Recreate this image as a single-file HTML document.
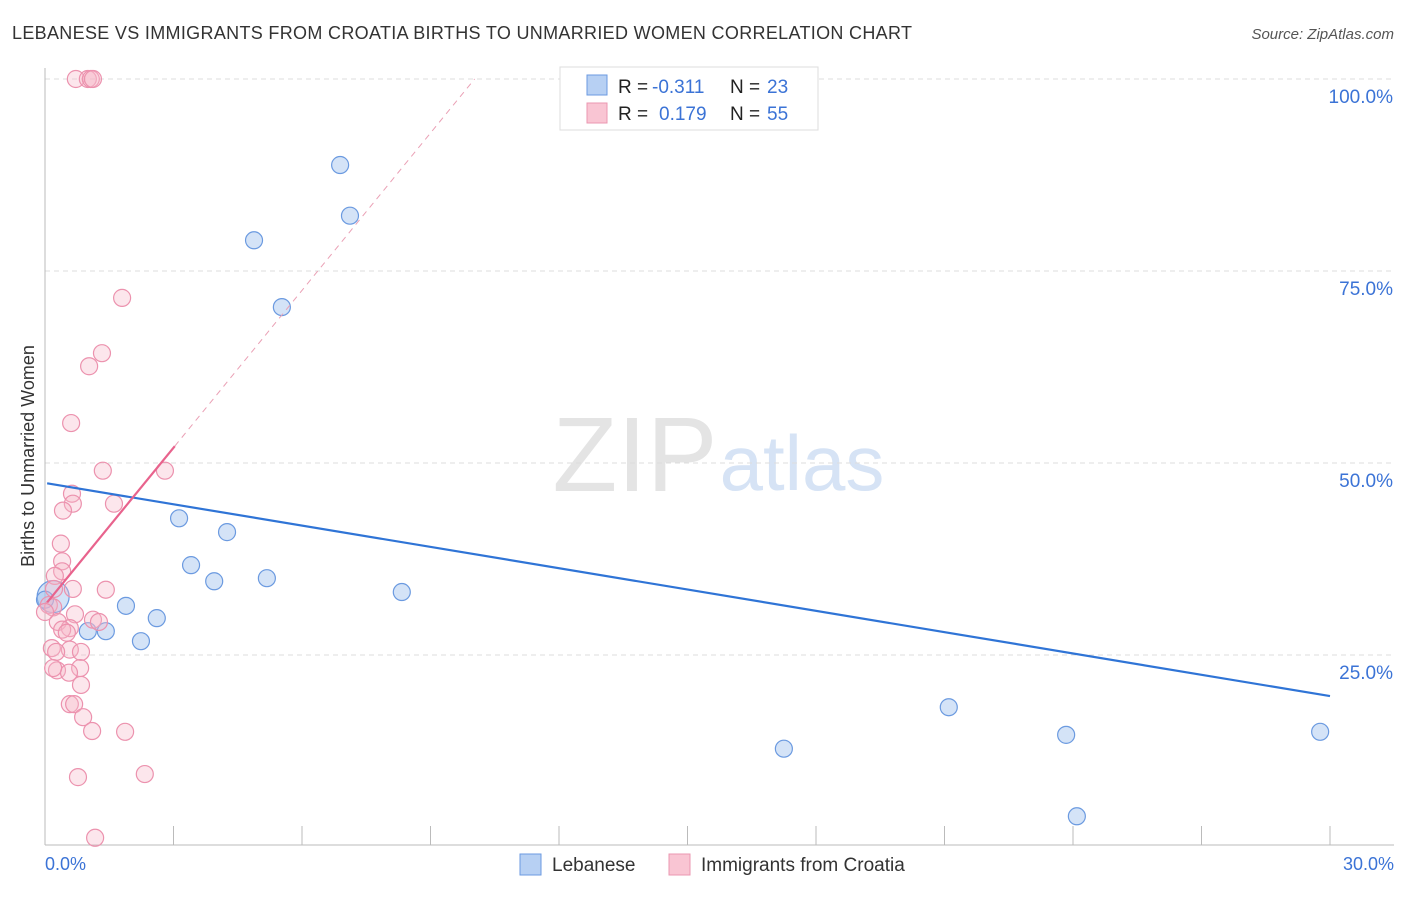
<!DOCTYPE html>
<html><head><meta charset="utf-8"><style>
body{margin:0;background:#fff;font-family:"Liberation Sans",sans-serif;}
svg text{font-family:"Liberation Sans",sans-serif;}
</style></head><body>
<svg width="1406" height="892">
<text x="12" y="39" font-size="18" fill="#333" textLength="900">LEBANESE VS IMMIGRANTS FROM CROATIA BIRTHS TO UNMARRIED WOMEN CORRELATION CHART</text>
<text x="1394" y="39" font-size="15" fill="#555" font-style="italic" text-anchor="end">Source: ZipAtlas.com</text>
<text x="635" y="491" font-size="106" fill="#e4e4e4" font-family="Liberation Serif" text-anchor="middle">ZIP</text>
<text x="802" y="490" font-size="78" fill="#d6e3f5" text-anchor="middle">atlas</text>
<g id="grid"></g>
<g id="axes"></g>
<g id="marks"></g>
<g id="lines"></g>
<text transform="translate(34,456) rotate(-90)" font-size="18" fill="#333" text-anchor="middle">Births to Unmarried Women</text>
<text x="45" y="870" font-size="18" fill="#3b73d6">0.0%</text>
<text x="1394" y="870" font-size="18" fill="#3b73d6" text-anchor="end">30.0%</text>
<g>
<rect x="560" y="67" width="258" height="63" fill="#fff" stroke="#ddd"/>
<rect x="587" y="75" width="20" height="20" fill="#b7d0f3" stroke="#6b9ae0"/>
<rect x="587" y="103" width="20" height="20" fill="#f9c5d3" stroke="#eb97b0"/>
<text x="618" y="93" font-size="19" fill="#222">R = </text><text x="652" y="93" font-size="19" fill="#3b73d6">-0.311</text>
<text x="730" y="93" font-size="19" fill="#222">N = </text><text x="767" y="93" font-size="19" fill="#3b73d6">23</text>
<text x="618" y="120" font-size="19" fill="#222">R = </text><text x="659" y="120" font-size="19" fill="#3b73d6">0.179</text>
<text x="730" y="120" font-size="19" fill="#222">N = </text><text x="767" y="120" font-size="19" fill="#3b73d6">55</text>
</g>
<g>
<rect x="520" y="854" width="21" height="21" fill="#b7d0f3" stroke="#6b9ae0"/>
<text x="552" y="871" font-size="19" fill="#333">Lebanese</text>
<rect x="669" y="854" width="21" height="21" fill="#f9c5d3" stroke="#eb97b0"/>
<text x="701" y="871" font-size="19" fill="#333">Immigrants from Croatia</text>
</g>
</svg>
<script>
const yTicks=[25,50,75,100];
const yTickLabels=["25.0%","50.0%","75.0%","100.0%"];
const xTickVals=[0,3,6,9,12,15,18,21,24,27,30];
const blueX=[12.68,6.89,7.12,4.88,5.53,3.13,4.25,3.41,3.95,5.18,8.33,1.89,2.61,1.00,1.42,2.24,0.19,21.1,17.25,23.84,29.77,24.09,0.0];
const blueY=[100,88.8,82.2,79.0,70.3,42.8,41.0,36.7,34.6,35.0,33.2,31.4,29.8,28.1,28.1,26.8,32.6,18.2,12.8,14.6,15.0,4.0,32.2];
const pinkX=[0.72,1.00,1.07,1.12,1.80,1.33,1.03,0.61,1.35,2.80,0.63,0.65,0.42,1.61,0.37,0.40,0.40,0.23,0.21,0.65,1.42,0.09,0.19,0.70,0.30,1.12,1.26,0.58,0.40,0.51,0.16,0.58,0.84,0.26,0.28,0.82,0.56,0.84,0.58,0.68,0.89,1.10,1.87,0.77,2.33,1.17,0.19,0.0];
const pinkY=[100,100,100,100,71.5,64.3,62.6,55.2,49.0,49.0,46.0,44.7,43.8,44.7,39.5,37.2,35.9,35.3,33.6,33.6,33.5,31.5,31.2,30.3,29.3,29.6,29.3,28.5,28.3,27.9,25.9,25.7,25.4,25.4,23.0,23.3,22.7,21.1,18.6,18.6,16.9,15.1,15.0,9.1,9.5,1.2,23.3,30.6];
const blueFit=[47.4,-0.925];
const pinkFit=[31.5,6.83];
const NS="http://www.w3.org/2000/svg";
const sx=v=>45+v/30*1285, sy=v=>847-v/100*768;
function mk(t,a,p){const e=document.createElementNS(NS,t);for(const k in a)e.setAttribute(k,a[k]);document.getElementById(p).appendChild(e);return e;}
yTicks.forEach((t,i)=>{
 const l=mk('line',{x1:45,x2:1394,y1:sy(t),y2:sy(t),stroke:'#ddd','stroke-dasharray':'5,4'},'grid');
 
 
 const tx=mk('text',{x:1393,y:sy(t)+24,'font-size':19,fill:'#3b73d6','text-anchor':'end'},'grid');
 tx.textContent=yTickLabels[i];
 
 
});
let a=mk('line',{x1:45,x2:45,y1:68,y2:845,stroke:'#bbb'},'axes');


a=mk('line',{x1:45,x2:1394,y1:845,y2:845,stroke:'#bbb'},'axes');


xTickVals.forEach(v=>{const t=mk('line',{x1:sx(v),x2:sx(v),y1:826,y2:845,stroke:'#bbb'},'axes');
 
 });
blueX.forEach((x,i)=>{const c=mk('circle',{cx:sx(x),cy:sy(blueY[i]),r:i===16?16:8.5,fill:'rgba(160,194,238,0.45)',stroke:'#6b9ae0','stroke-width':1.2},'marks');
 
 });
pinkX.forEach((x,i)=>{const c=mk('circle',{cx:sx(x),cy:sy(pinkY[i]),r:8.5,fill:'rgba(246,182,200,0.35)',stroke:'#ec92ae','stroke-width':1.2},'marks');
 
 });
let l=mk('line',{x1:sx(0.05),y1:sy(blueFit[0]+blueFit[1]*0.05),x2:sx(30),y2:sy(blueFit[0]+blueFit[1]*30),stroke:'#2f74d6','stroke-width':2.2},'lines');


const xe=(100-pinkFit[0])/pinkFit[1];
l=mk('line',{x1:sx(3.03),y1:sy(pinkFit[0]+pinkFit[1]*3.03),x2:sx(xe),y2:sy(100),stroke:'#eaa0b5','stroke-width':1,'stroke-dasharray':'6,5'},'lines');


l=mk('line',{x1:sx(0.05),y1:sy(pinkFit[0]+pinkFit[1]*0.05),x2:sx(3.03),y2:sy(pinkFit[0]+pinkFit[1]*3.03),stroke:'#e8638d','stroke-width':2.2},'lines');


</script>
</body></html>
